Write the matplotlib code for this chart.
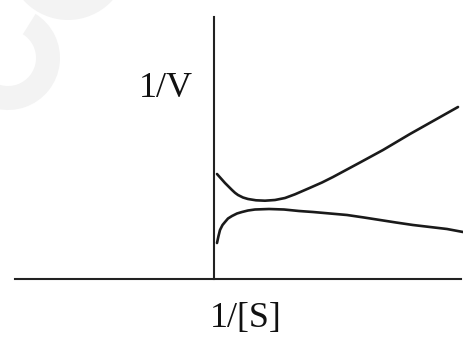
import matplotlib.pyplot as plt
from matplotlib.patches import Wedge, Circle

# curve points (x = 1/[S], y = 1/V)
upper_x = [0.03, 0.07, 0.11, 0.15, 0.18, 0.21, 0.24, 0.29, 0.34, 0.42, 0.51, 0.61, 0.71,
           0.81, 0.96, 1.08, 1.19, 1.46, 1.69, 1.96, 2.20, 2.44]
upper_y = [1.05, 1.005, 0.96, 0.92, 0.89, 0.862, 0.84, 0.815, 0.80, 0.787, 0.783, 0.79, 0.81,
           0.847, 0.912, 0.965, 1.02, 1.165, 1.29, 1.45, 1.585, 1.72]

lower_x = [0.03, 0.045, 0.06, 0.085, 0.11, 0.14, 0.18, 0.23, 0.28, 0.34, 0.41, 0.55, 0.70,
           0.85, 0.99, 1.16, 1.33, 1.50, 1.66, 1.82, 1.99, 2.16, 2.33, 2.49]
lower_y = [0.36, 0.43, 0.49, 0.54, 0.57, 0.605, 0.63, 0.655, 0.67, 0.685, 0.695, 0.70, 0.695,
           0.68, 0.67, 0.655, 0.64, 0.615, 0.59, 0.565, 0.54, 0.52, 0.50, 0.47]

ylabel = "1/V"
xlabel = "1/[S]"

fig = plt.figure(figsize=(4.63, 3.40), dpi=100)

# faint watermark behind everything (pixel coords, y down)
bg = fig.add_axes([0, 0, 1, 1], zorder=-1)
bg.set_xlim(0, 463)
bg.set_ylim(340, 0)
bg.axis("off")
wm = "#f3f3f3"
bg.add_patch(Wedge((8, 58), 52, -58, 200, width=24, color=wm, lw=0))
bg.add_patch(Circle((68, -40), 60, color=wm, lw=0))

ax = fig.add_axes([15 / 463, 61 / 340, 446 / 463, 262 / 340])
ax.set_xlim(-1.99, 2.47)
ax.set_ylim(0, 2.62)
ax.patch.set_alpha(0)

ax.plot(upper_x, upper_y, color="#1a1a1a", lw=1.9, clip_on=False,
        solid_capstyle="round", solid_joinstyle="round")
ax.plot(lower_x, lower_y, color="#1a1a1a", lw=1.9, clip_on=False,
        solid_capstyle="round", solid_joinstyle="round")

for s in ["top", "right"]:
    ax.spines[s].set_visible(False)
ax.spines["left"].set_position(("data", 0))
for s in ["left", "bottom"]:
    ax.spines[s].set_linewidth(1.5)
    ax.spines[s].set_color("#222222")
ax.set_xticks([])
ax.set_yticks([])

ax.text(-0.48, 1.91, ylabel, family="Liberation Serif", fontsize=26,
        ha="center", va="center", color="#111111")
ax.text(0.32, -0.39, xlabel, family="Liberation Serif", fontsize=26,
        ha="center", va="center", color="#111111", clip_on=False)

fig.savefig("out.png", dpi=100)
